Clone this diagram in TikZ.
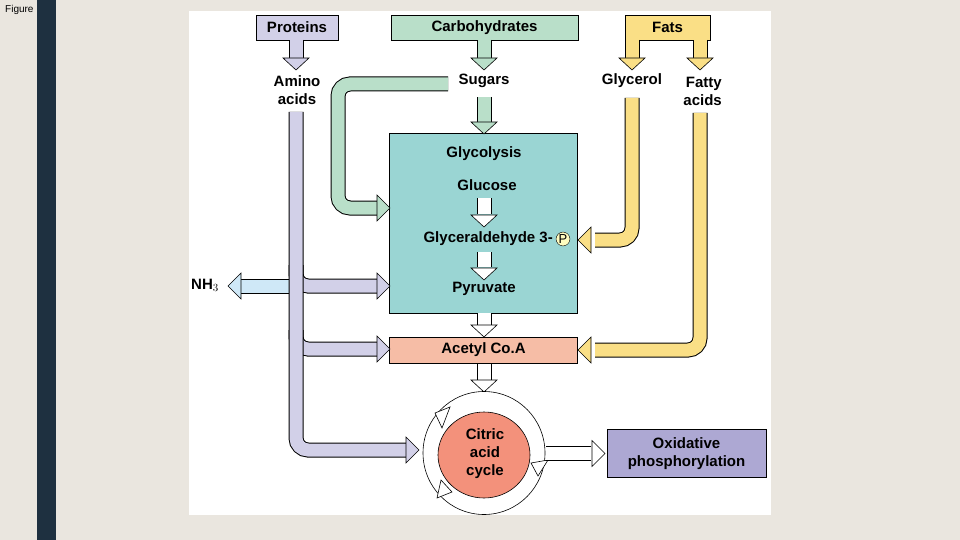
\documentclass[tikz,border=0pt]{standalone}
\usepackage{fontspec}
\setmainfont{Liberation Sans}
\usetikzlibrary{shapes.geometric}
\begin{document}
\begin{tikzpicture}[x=1pt,y=-1pt,
  lbl/.style={font=\fontsize{15}{18}\selectfont\bfseries, align=center, inner sep=0pt},
  box/.style={draw=black, line width=0.7pt}]
\definecolor{bg}{HTML}{EAE6DF}
\definecolor{bar}{HTML}{1E3040}
\definecolor{lav}{HTML}{D2D0E8}
\definecolor{grn}{HTML}{B9DFC9}
\definecolor{yel}{HTML}{FADF86}
\definecolor{teal}{HTML}{9AD5D3}
\definecolor{sal}{HTML}{F6BDA6}
\definecolor{oxi}{HTML}{ADA8D3}
\definecolor{cit}{HTML}{F3917B}
\definecolor{nh}{HTML}{CFE8F7}
\newcommand\myshaft[2]{\draw[line width=15pt, black, rounded corners=12pt] #2; \draw[line width=13pt, #1, rounded corners=12pt] #2;}
\newcommand\hdown[2]{\filldraw[fill=#1, draw=black, line width=0.6pt] (#2) -- ++(-13,-12) -- ++(26,0) -- cycle;}
\newcommand\hright[2]{\filldraw[fill=#1, draw=black, line width=0.6pt] (#2) -- ++(-13,-13) -- ++(0,26) -- cycle;}
\newcommand\hleft[2]{\filldraw[fill=#1, draw=black, line width=0.6pt] (#2) -- ++(13,-13) -- ++(0,26) -- cycle;}
\useasboundingbox (0,0) rectangle (960,540);
\fill[bg] (0,0) rectangle (960,540);
\node[anchor=west, font=\fontsize{10}{11}\selectfont, inner sep=0pt] (fig) at (5,10) {Figure 18-5};
\fill[bar] (37,0) rectangle (56,540);
\fill[white] (189,11) rectangle (771,515);
% boxes
\node[box, fill=lav, minimum width=82pt, minimum height=25pt, lbl] (prot) at (297,27.5) {Proteins};
\node[box, fill=grn, minimum width=187pt, minimum height=25pt, lbl] (carb) at (484.5,27.5) {Carbohydrates};
\node[box, fill=yel, minimum width=85pt, minimum height=25pt, lbl] (fats) at (667.5,27.5) {Fats};
\node[box, fill=teal, minimum width=188pt, minimum height=180pt] (glyb) at (483.5,223) {};
\node[box, fill=sal, minimum width=188pt, minimum height=26pt, lbl] (acoa) at (483.5,350) {Acetyl Co.A};
\node[box, fill=oxi, minimum width=159pt, minimum height=48pt, lbl] (oxid) at (686.5,453.5) {Oxidative\\phosphorylation};
% labels
\node[lbl] (amino) at (297,90) {Amino\\acids};
\node[lbl] (sug) at (484,81) {Sugars};
\node[lbl] (glyc) at (632,81) {Glycerol};
\node[lbl, align=right, anchor=east] (fatty) at (722,91) {Fatty\\acids};
\node[lbl] (glys) at (484,154) {Glycolysis};
\node[lbl] (gluc) at (487,185) {Glucose};
\node[lbl, anchor=east] (g3p) at (553,239) {Glyceraldehyde 3-};
\node[draw, circle, fill=yellow!25, inner sep=0.5pt, font=\fontsize{13}{13}\selectfont] (pp) at (563,239) {P};
\node[lbl] (pyr) at (484,289) {Pyruvate};
\node[lbl, anchor=west] (nh3) at (191,285) {NH$_3$};
% top arrows
\myshaft{lav}{(296,40) -- (296,58)} \hdown{lav}{296,70}
\myshaft{grn}{(484,40) -- (484,58)} \hdown{grn}{484,70}
\myshaft{yel}{(632,40) -- (632,58)} \hdown{yel}{632,70}
\myshaft{yel}{(700,40) -- (700,58)} \hdown{yel}{700,70}
\myshaft{grn}{(484,97) -- (484,122)} \hdown{grn}{484,134}
% green bent
\myshaft{grn}{(448,84) -- (338,84) -- (338,208) -- (377,208)} \hright{grn}{390,208}
% yellow bent
\myshaft{yel}{(632,98) -- (632,240) -- (595,240)} \hleft{yel}{578,240}
\myshaft{yel}{(700,113) -- (700,350) -- (595,350)} \hleft{yel}{578,350}
% lavender
\myshaft{nh}{(296,286) -- (241,286)} \hleft{nh}{228,286}
\myshaft{lav}{(296,265) -- (296,286) -- (377,286)} \hright{lav}{390,286}
\myshaft{lav}{(296,330) -- (296,349) -- (377,349)} \hright{lav}{390,349}
\myshaft{lav}{(296,112) -- (296,450) -- (406,450)} \hright{lav}{419,450}
% white arrows
\myshaft{white}{(484,198) -- (484,214)} \hdown{white}{484,227}
\myshaft{white}{(484,252) -- (484,267)} \hdown{white}{484,280}
\myshaft{white}{(484,313) -- (484,325)} \hdown{white}{484,337}
\myshaft{white}{(484,364) -- (484,380)} \hdown{white}{484,392}
% citric
\draw[fill=white, line width=0.6pt] (484,453) ellipse (61pt and 61.5pt);
\node[draw, ellipse, fill=cit, minimum width=92pt, minimum height=86pt, line width=0.6pt] (cit) at (484,455) {};
\node[lbl] (citt) at (485,454) {Citric\\acid\\cycle};
\filldraw[fill=white, draw=black, line width=0.6pt] (442,428) -- (435,413) -- (450,407) -- cycle;
\filldraw[fill=white, draw=black, line width=0.6pt] (531,463) -- (538,476) -- (548,460) -- cycle;
\filldraw[fill=white, draw=black, line width=0.6pt] (441,480) -- (437,498) -- (452,492) -- cycle;
\myshaft{white}{(546,453.5) -- (591,453.5)} \hright{white}{605,453.5}
\end{tikzpicture}
\end{document}
